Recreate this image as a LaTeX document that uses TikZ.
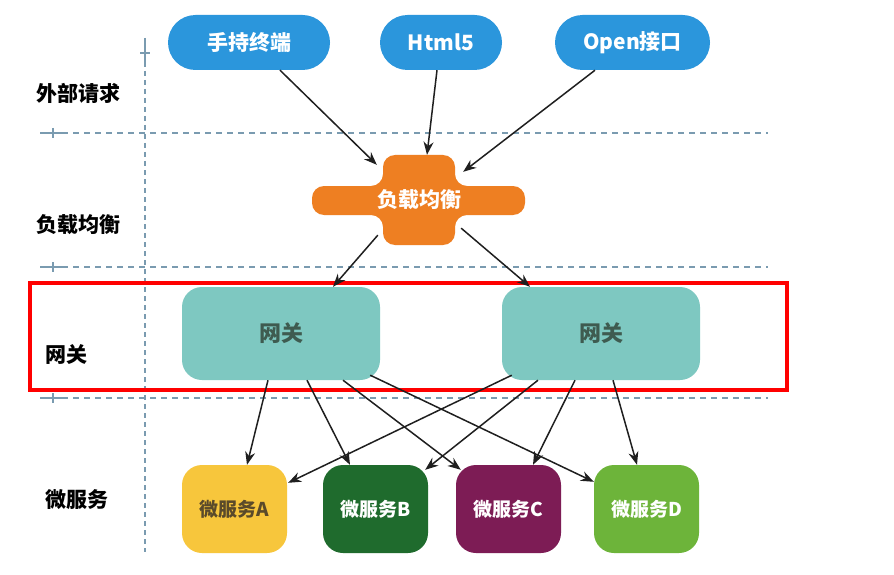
\documentclass[tikz,border=0pt]{standalone}
\usepackage{fontspec}
\setmainfont{Noto Sans CJK SC}
\usetikzlibrary{arrows.meta}
\definecolor{pillblue}{HTML}{2B96DC}
\definecolor{lborange}{HTML}{EE7F22}
\definecolor{gwteal}{HTML}{7EC8C1}
\definecolor{gwtext}{HTML}{3E5B50}
\definecolor{msA}{HTML}{F7C63C}
\definecolor{msAtext}{HTML}{5A4A2A}
\definecolor{msB}{HTML}{1F6B2D}
\definecolor{msC}{HTML}{7D1C55}
\definecolor{msD}{HTML}{6DB43A}
\definecolor{gridc}{HTML}{7A9BB0}
\tikzset{
  pill/.style={fill=pillblue, text=white, rounded corners=27.5pt, minimum height=55pt, inner sep=0pt, font=\fontsize{21}{21}\selectfont\bfseries},
  lbbox/.style={text=white, inner sep=0pt, font=\fontsize{21}{21}\selectfont\bfseries},
  gwbox/.style={fill=gwteal, text=gwtext, rounded corners=20pt, minimum width=198pt, minimum height=93pt, inner sep=0pt, font=\fontsize{22}{22}\selectfont\bfseries},
  msbox/.style={rounded corners=20pt, minimum width=105pt, minimum height=88pt, inner sep=0pt, text=white, font=\fontsize{19}{19}\selectfont\bfseries},
  layerlbl/.style={text=black, inner sep=0pt, font=\fontsize{21}{21}\selectfont\bfseries},
  conn/.style={draw=black!88, line width=1.5pt, -{Stealth[length=13pt,width=10pt]}},
  gridline/.style={draw=gridc, line width=1.3pt, dash pattern=on 6pt off 5pt},
  vgridline/.style={draw=gridc, line width=1.2pt, dash pattern=on 5pt off 4pt},
  tick/.style={draw=gridc, line width=1.3pt},
  redframe/.style={draw=red, line width=4.5pt}
}
\begin{document}
\begin{tikzpicture}[x=1pt,y=-1pt]
\useasboundingbox (0,0) rectangle (894,575);
\fill[white] (0,0) rectangle (894,575);

% grid
\draw[vgridline] (145,62) -- (145,552);
\draw[tick] (145,38) -- (145,62);
\draw[tick] (140,53) -- (150,53);
\foreach \yy in {133,267,398}{
  \draw[gridline] (62,\yy) -- (768,\yy);
  \draw[tick] (40,\yy) -- (62,\yy);
  \draw[tick] (53,\yy-5) -- (53,\yy+5);
}

% layer labels
\node[layerlbl] (l1) at (78,93) {外部请求};
\node[layerlbl] (l2) at (78,225) {负载均衡};
\node[layerlbl] (l3) at (66,355) {网关};
\node[layerlbl] (l4) at (77,500) {微服务};

% top pills
\node[pill, minimum width=162pt] (h1) at (249,42.5) {手持终端};
\node[pill, minimum width=122pt] (h2) at (441,42.5) {Html5};
\node[pill, minimum width=155pt] (h3) at (632.5,42.5) {Open接口};

% load balancer (cross shape with fillets)
\fill[lborange, rounded corners=12pt] (383,155) -- (455,155) -- (455,186) -- (525,186) -- (525,215) -- (455,215) -- (455,245) -- (383,245) -- (383,215) -- (312,215) -- (312,186) -- (383,186) -- cycle;
\node[lbbox, minimum width=72pt, minimum height=90pt] (lb) at (419,200) {负载均衡};

% gateways
\node[gwbox] (g1) at (281,333.5) {网关};
\node[gwbox] (g2) at (601,333.5) {网关};

% microservices
\node[msbox, fill=msA, text=msAtext] (mA) at (234.5,509) {微服务A};
\node[msbox, fill=msB] (mB) at (375.5,509) {微服务B};
\node[msbox, fill=msC] (mC) at (508.5,509) {微服务C};
\node[msbox, fill=msD] (mD) at (646.5,509) {微服务D};

% red frame
\node[redframe, minimum width=757pt, minimum height=107pt, inner sep=0pt] (frame) at (408.5,336.5) {};

% connectors top -> load balancer
\draw[conn] ([xshift=31pt]h1.south) -- ([yshift=-10pt]lb.north west);
\draw[conn] ([xshift=-4pt]h2.south) -- ([xshift=8pt]lb.north);
\draw[conn] ([xshift=-37.5pt]h3.south) -- ([xshift=2pt,yshift=-17pt]lb.north east);

% load balancer -> gateways
\draw[conn] ([xshift=1pt,yshift=10pt]lb.south west) -- ([xshift=52pt]g1.north);
\draw[conn] ([yshift=17pt]lb.south east) -- ([xshift=-71pt]g2.north);

% gateway 1 -> services
\draw[conn] ([xshift=-13pt]g1.south) -- ([xshift=12.5pt]mA.north);
\draw[conn] ([xshift=26pt]g1.south) -- ([xshift=-25.5pt]mB.north);
\draw[conn] ([xshift=62pt]g1.south) -- ([xshift=5pt,yshift=-5pt]mC.north west);
\draw[conn] ([xshift=-10pt,yshift=5pt]g1.south east) -- ([yshift=-17pt]mD.north west);

% gateway 2 -> services
\draw[conn] ([xshift=10pt,yshift=5pt]g2.south west) -- ([xshift=1pt,yshift=-18pt]mA.north east);
\draw[conn] ([xshift=-63pt]g2.south) -- ([xshift=-3pt,yshift=-5pt]mB.north east);
\draw[conn] ([xshift=-26pt]g2.south) -- ([xshift=24.5pt]mC.north);
\draw[conn] ([xshift=12pt]g2.south) -- ([xshift=-9.5pt]mD.north);
\end{tikzpicture}
\end{document}
